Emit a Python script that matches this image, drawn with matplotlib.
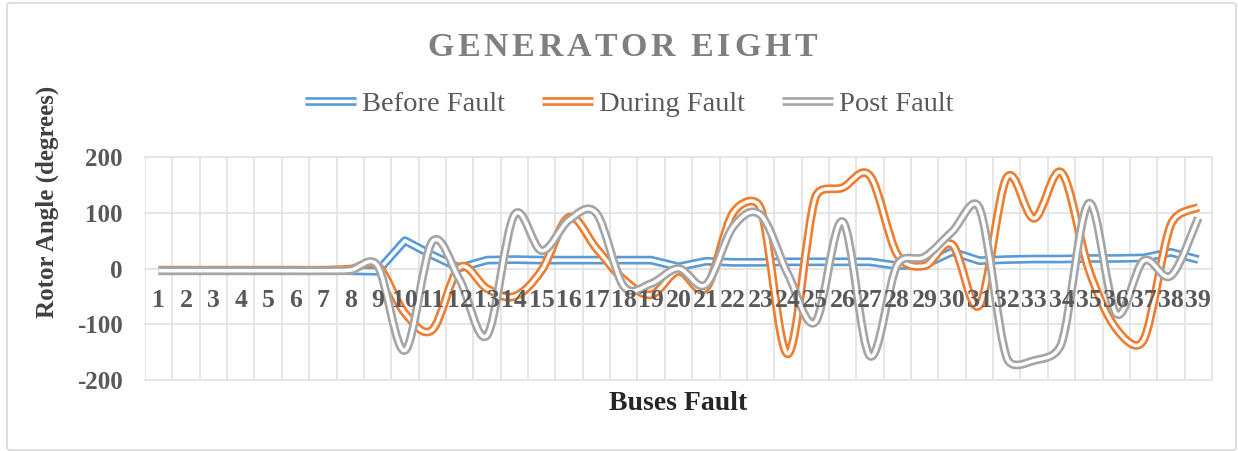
import matplotlib
matplotlib.use('Agg')
import matplotlib.pyplot as plt
from matplotlib.path import Path
from matplotlib.patches import PathPatch, FancyBboxPatch
from matplotlib.lines import Line2D

plt.rcParams['font.family'] = ['Liberation Serif', 'DejaVu Serif']
plt.rcParams['axes.unicode_minus'] = False

# data
buses = list(range(1, 40))
before_fault = [-4, -4, -4, -4, -4, -4, -4, -4, -5, 50, 24, 1, 15, 16, 15, 15, 15, 15, 15, 3,
                13, 11, 11, 12, 12, 12, 12, 5, 7, 30, 14, 16, 17, 17, 18, 18, 19, 29, 16]
during_fault = [-3, -3, -3, -3, -3, -3, -3, -1, 5, -80, -110, 2, -36, -50, -3, 92, 36, -20, -47, -5,
                -35, 100, 108, -153, 127, 145, 166, 25, 5, 43, -66, 163, 90, 172, -2, -108, -128, 79, 110]
post_fault = [-4, -4, -4, -4, -4, -4, -4, -3, 5, -147, 48, -20, -120, 96, 32, 87, 99, -32, -27, 0,
              -29, 75, 96, -10, -96, 84, -157, 7, 21, 66, 108, -160, -165, -134, 117, -81, 14, -13, 91]
series_names = ['Before Fault', 'During Fault', 'Post Fault']

BLUE = '#5b9bd5'
ORANGE = '#ed7d31'
GRAY = '#a5a5a5'
OUTER = 6.3   # double line: coloured stroke
INNER = 2.5   # white gap in the middle
TXT = '#595959'
GRID = '#e2e2e2'

W, H = 1238, 451


def smooth_path(ax, xs, ys):
    # excel style smoothed line: bezier arms capped at half the segment (in pixels)
    pts = list(zip(xs, ys))
    px = ax.transData.transform(pts)
    n = len(pts)

    def dist(a, b):
        return ((px[a][0] - px[b][0]) ** 2 + (px[a][1] - px[b][1]) ** 2) ** 0.5

    verts = [pts[0]]
    codes = [Path.MOVETO]
    for i in range(n - 1):
        i0, i1, i2, i3 = max(i - 1, 0), i, i + 1, min(i + 2, n - 1)
        d12 = dist(i1, i2)
        d02 = dist(i0, i2)
        d13 = dist(i1, i3)
        f = 1 / 6 if d02 / 6 < d12 / 2 else d12 / (2 * d02)
        g = 1 / 6 if d13 / 6 < d12 / 2 else d12 / (2 * d13)
        p0, p1, p2, p3 = pts[i0], pts[i1], pts[i2], pts[i3]
        c1 = (p1[0] + f * (p2[0] - p0[0]), p1[1] + f * (p2[1] - p0[1]))
        c2 = (p2[0] - g * (p3[0] - p1[0]), p2[1] - g * (p3[1] - p1[1]))
        verts += [c1, c2, p2]
        codes += [Path.CURVE4] * 3
    return Path(verts, codes)


def double_line(ax, xs, ys, color, smooth, z):
    for lw, c, dz in ((OUTER, color, 0), (INNER, 'white', 0.05)):
        if smooth:
            ax.add_patch(PathPatch(smooth_path(ax, xs, ys), fill=False, edgecolor=c, lw=lw,
                                   joinstyle='round', capstyle='butt', zorder=z + dz))
        else:
            ax.plot(xs, ys, color=c, lw=lw, solid_joinstyle='round', solid_capstyle='butt',
                    zorder=z + dz)


fig = plt.figure(figsize=(W / 100, H / 100), dpi=100)
ax = fig.add_axes([145 / W, 1 - 380 / H, 1067 / W, 223 / H])
ax.set_xlim(0.5, 39.5)
ax.set_ylim(-200, 200)
yticks = [-200, -100, 0, 100, 200]
ax.set_yticks(yticks)
ax.set_xticks(buses)
ax.set_xticklabels([str(b) for b in buses])

# gridlines under everything, tick labels above the lines
for b in buses:
    ax.axvline(b - 0.5, color=GRID, lw=1.2, zorder=0.5)
ax.axvline(39.5, color=GRID, lw=1.2, zorder=0.5, clip_on=False)
for yv in yticks:
    ax.axhline(yv, color=GRID, lw=1.2, zorder=0.5, clip_on=False)
ax.set_axisbelow(False)

double_line(ax, buses, before_fault, BLUE, False, 1.0)
double_line(ax, buses, during_fault, ORANGE, True, 1.2)
double_line(ax, buses, post_fault, GRAY, True, 1.4)

for s in ax.spines.values():
    s.set_visible(False)
ax.spines['bottom'].set_position(('data', 0))
ax.tick_params(axis='x', which='both', length=0, pad=14.5, labelsize=18.5, labelcolor=TXT)
ax.tick_params(axis='y', length=0, pad=16, labelsize=18, labelcolor=TXT)
for lab in ax.get_xticklabels() + ax.get_yticklabels():
    lab.set_fontweight('bold')

# title with letter spacing
title = 'GENERATOR EIGHT'
tkw = dict(fontsize=24.5, fontweight='bold', color='#7f7f7f')
r = fig.canvas.get_renderer()
widths = []
for ch in title:
    if ch == ' ':
        widths.append(24.5 * 100 / 72 * 0.25)
        continue
    t = fig.text(0, 0, ch, **tkw)
    widths.append(t.get_window_extent(r).width)
    t.remove()
gap = 3.6
total = sum(widths) + gap * (len(title) - 1)
x = 622 - total / 2
for ch, w in zip(title, widths):
    if ch != ' ':
        fig.text(x / W, 1 - 56 / H, ch, ha='left', va='baseline', **tkw)
    x += w + gap

# legend with double-line handles
handles = [(Line2D([], [], color=c, lw=OUTER, solid_capstyle='butt'),
            Line2D([], [], color='white', lw=INNER, solid_capstyle='butt'))
           for c in (BLUE, ORANGE, GRAY)]
fig.legend(handles, series_names, loc='center', bbox_to_anchor=(629 / W, 1 - 104 / H),
           ncol=3, frameon=False, fontsize=20.5, labelcolor=TXT, handlelength=1.8,
           handletextpad=0.2, columnspacing=1.3)

fig.text(47 / W, 1 - 202 / H, 'Rotor Angle (degrees)', rotation=90, ha='center', va='center',
         fontsize=18, fontweight='bold', color='#404040')
fig.text(678 / W, 1 - 403 / H, 'Buses Fault', ha='center', va='center',
         fontsize=20, fontweight='bold', color='#262626')

# chart area border
fig.add_artist(FancyBboxPatch((7 / W, 1 - 450 / H), 1229 / W, 447 / H,
                              boxstyle='round,pad=0,rounding_size=0.004',
                              transform=fig.transFigure, fill=False, ec='#d9d9d9', lw=1.2))

fig.savefig('out.png', dpi=100)
